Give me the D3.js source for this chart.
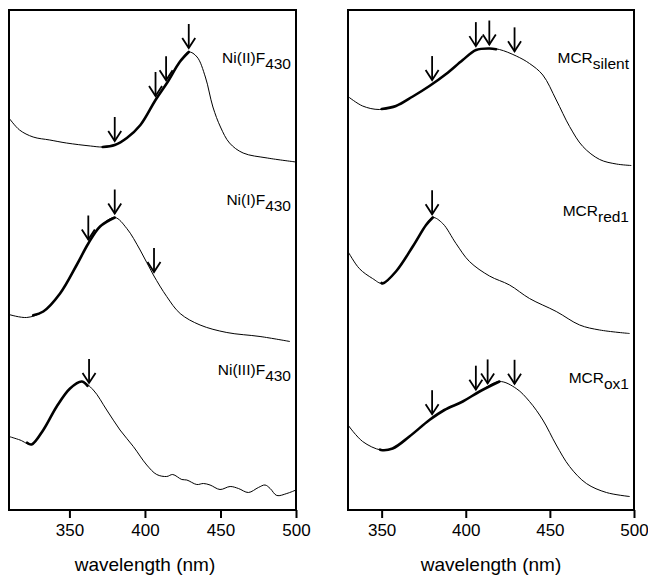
<!DOCTYPE html>
<html>
<head>
<meta charset="utf-8">
<script src="https://cdnjs.cloudflare.com/ajax/libs/d3/7.8.5/d3.min.js"></script>
<style>
body { margin: 0; background: #fff; }
text { font-family: "Liberation Sans", Arial, sans-serif; fill: #000; }
</style>
</head>
<body>
<svg id="chart" width="648" height="576"></svg>
<script>
// spectra (wavelength in nm, relative absorbance with offsets, 0..100)
const niIIWl  = [310, 317, 326, 337, 348, 364, 372, 380, 388, 397, 407, 415, 423, 429, 434.5, 440, 445, 450, 456, 465, 481, 500];
const niIIAbs = [78.4, 76, 74.6, 74, 73.4, 72.8, 72.6, 73, 74.4, 77, 82, 85.6, 89.6, 91.6, 90.6, 86.6, 80.6, 76.6, 73.4, 71.4, 70.4, 69.6];

const niIWl  = [310, 321.7, 332.7, 343.8, 354.8, 362.5, 370.3, 380, 388, 396.8, 405.6, 414.4, 423.3, 436.5, 454.2, 476.2, 496];
const niIAbs = [39.1, 38.5, 39.7, 43.3, 49, 53.3, 56.7, 58.5, 56.3, 52, 47, 42.7, 39.3, 37, 35.5, 34.7, 33.7];

const niIIIWl  = [310, 317.3, 325, 332.7, 341.6, 350.4, 358.1, 365.8, 374.7, 383.5, 392.3, 401.2, 407.8, 414.4, 418.4, 424.4, 427.7, 434.3, 438.7, 443.1, 449.7, 456.4, 461.9, 468.5, 475.1, 479.5, 482.9, 487.3, 493.9, 500];
const niIIIAbs = [14.7, 14, 13.1, 16, 20.7, 24.3, 25.7, 24, 20, 16, 12.7, 9, 7.1, 6.7, 7.1, 6.1, 6, 5.1, 5.3, 5, 4.1, 4.7, 4.3, 3.5, 4.5, 5, 4.3, 2.9, 3.3, 4];

const silentWl  = [330, 338.7, 348.6, 358.5, 368.5, 378.4, 388.3, 398.2, 406.1, 414.1, 420, 430, 437.9, 445.8, 453.8, 461.7, 469.6, 479.6, 489.5, 498.4];
const silentAbs = [82.7, 80.8, 80.1, 80.8, 82.7, 84.8, 87.2, 90, 92, 92.3, 92.1, 90.8, 89.3, 87, 82, 76.7, 72.7, 70.1, 69.2, 68.9];

const red1Wl  = [330, 336.7, 344.6, 350.6, 358.5, 368.5, 376.4, 380.4, 386.3, 394.2, 402.2, 414.1, 426, 437.9, 453.8, 467.7, 479.6, 497.4];
const red1Abs = [51.7, 48.3, 46.3, 45.3, 47.7, 52.7, 57, 58.5, 57.3, 53.3, 49.7, 46.8, 45, 42.3, 39.7, 37, 36, 35.3];

const ox1Wl  = [330, 338.7, 349.6, 356.5, 366.5, 378.4, 387.3, 398.2, 408.2, 420, 430, 437.9, 445.8, 453.8, 461.7, 471.7, 483.6, 497.4];
const ox1Abs = [17, 13.7, 12, 12.3, 14.7, 18, 20, 21.7, 23.7, 25.7, 24.3, 21.7, 18, 13, 8.7, 5.3, 3.5, 2.7];

// excitation wavelengths (arrows)
const niIIArrows   = [380, 407, 414, 429];
const niIArrows    = [362.5, 380, 406];
const niIIIArrows  = [363];
const silentArrows = [380, 406, 414, 429];
const red1Arrows   = [380];
const ox1Arrows    = [380, 406, 413, 429];

const tickValues = [350, 400, 450, 500];
const xTitle = "wavelength (nm)";

const panels = [
  { x0: 9, x1: 296, domain: [310, 500], titleX: 145, spectra: [
    { wl: niIIWl, abs: niIIAbs, arrows: niIIArrows, bold: [372, 429], name: "Ni(II)F", sub: "430", labelY: 63 },
    { wl: niIWl, abs: niIAbs, arrows: niIArrows, bold: [326, 380], name: "Ni(I)F", sub: "430", labelY: 205 },
    { wl: niIIIWl, abs: niIIIAbs, arrows: niIIIArrows, bold: [322, 362], name: "Ni(III)F", sub: "430", labelY: 375 }
  ]},
  { x0: 348, x1: 634, domain: [330, 500], titleX: 491, spectra: [
    { wl: silentWl, abs: silentAbs, arrows: silentArrows, bold: [350, 418], name: "MCR", sub: "silent", labelY: 63 },
    { wl: red1Wl, abs: red1Abs, arrows: red1Arrows, bold: [350, 380.4], name: "MCR", sub: "red1", labelY: 216 },
    { wl: ox1Wl, abs: ox1Abs, arrows: ox1Arrows, bold: [349, 420], name: "MCR", sub: "ox1", labelY: 383 }
  ]}
];

const plotTop = 10, plotBottom = 510;
const svg = d3.select("#chart");
const y = d3.scaleLinear().domain([0, 100]).range([plotBottom, plotTop]);

panels.forEach(p => {
  const x = d3.scaleLinear().domain(p.domain).range([p.x0, p.x1]);
  const g = svg.append("g");

  const line = d3.line()
    .x(d => x(d[0]))
    .y(d => y(d[1]))
    .curve(d3.curveCatmullRom.alpha(0.5));

  p.spectra.forEach(s => {
    const pts = s.wl.map((w, i) => [w, s.abs[i]]);
    g.append("path")
      .attr("d", line(pts))
      .attr("fill", "none")
      .attr("stroke", "#000")
      .attr("stroke-width", 1);

    const interp = w => {
      const i = Math.max(1, Math.min(pts.length - 1, d3.bisector(d => d[0]).left(pts, w)));
      const a = pts[i - 1], b = pts[i];
      return a[1] + (b[1] - a[1]) * (w - a[0]) / (b[0] - a[0]);
    };

    // bold part of the curve
    const boldPts = pts.filter(d => d[0] > s.bold[0] && d[0] < s.bold[1]);
    boldPts.unshift([s.bold[0], interp(s.bold[0])]);
    boldPts.push([s.bold[1], interp(s.bold[1])]);
    g.append("path")
      .attr("d", line(boldPts))
      .attr("fill", "none")
      .attr("stroke", "#000")
      .attr("stroke-width", 2.6)
      .attr("stroke-linecap", "round");

    // arrows
    s.arrows.forEach(w => {
      const ax = x(w), tip = y(interp(w)) - 4;
      g.append("line")
        .attr("x1", ax).attr("x2", ax)
        .attr("y1", tip - 24).attr("y2", tip)
        .attr("stroke", "#000").attr("stroke-width", 1.8);
      g.append("path")
        .attr("d", `M${ax - 6.5},${tip - 10}L${ax},${tip}L${ax + 6.5},${tip - 10}`)
        .attr("fill", "none").attr("stroke", "#000").attr("stroke-width", 1.8);
    });

    // label
    const t = g.append("text")
      .attr("x", p.x1 - 5)
      .attr("y", s.labelY)
      .attr("text-anchor", "end")
      .attr("font-size", 15.5);
    t.append("tspan").text(s.name);
    t.append("tspan").attr("dy", 6).text(s.sub);
  });

  // frame
  g.append("rect")
    .attr("x", p.x0).attr("y", plotTop)
    .attr("width", p.x1 - p.x0).attr("height", plotBottom - plotTop)
    .attr("fill", "none").attr("stroke", "#000").attr("stroke-width", 2);

  const axis = d3.axisBottom(x).tickValues(tickValues).tickSize(8).tickPadding(6);
  const ag = g.append("g").attr("transform", `translate(0,${plotBottom})`).call(axis);
  ag.select(".domain").remove();
  ag.selectAll(".tick line").attr("stroke", "#000").attr("stroke-width", 2);
  ag.selectAll(".tick text")
    .attr("font-size", 17)
    .attr("font-family", "\"Liberation Sans\", Arial, sans-serif")
    .attr("fill", "#000");

  g.append("text")
    .attr("x", p.titleX)
    .attr("y", 571)
    .attr("text-anchor", "middle")
    .attr("font-size", 19)
    .text(xTitle);
});
</script>
</body>
</html>
